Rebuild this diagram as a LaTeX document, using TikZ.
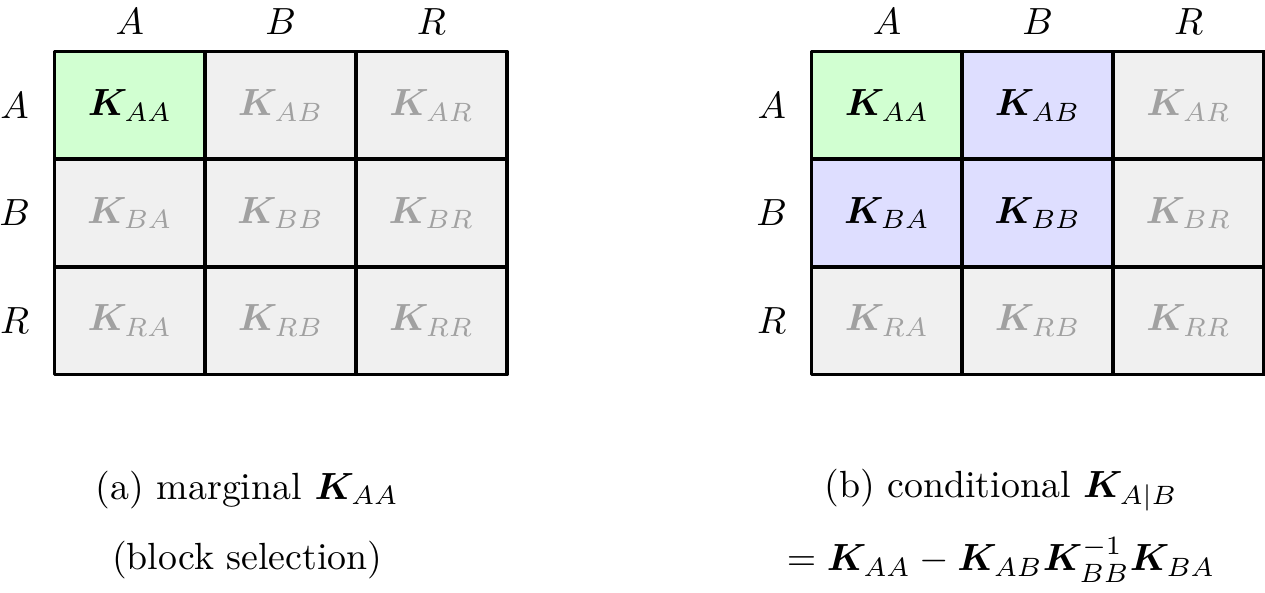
\documentclass[tikz,border=0pt]{standalone}
\usepackage{amsmath,bm}
\tikzset{
  cell/.style={draw,line width=1pt,minimum width=1.4cm,minimum height=1cm,inner sep=0pt},
  sel/.style={fill=green!18,text=black},
  cond/.style={fill=blue!13,text=black},
  rest/.style={fill=black!6,text=black!37},
  lab/.style={inner sep=1pt}
}
\begin{document}
\begin{tikzpicture}[line cap=round,line join=round]
  \useasboundingbox (-0.506,0.478) rectangle (11.24,-5.02);
  % row and column labels
  \foreach \g/\x in {a/0,b/7.03}
    \foreach \r/\i in {A/1,B/2,R/3}{
      \node[lab] (\g col\r) at (\x+1.4*\i-0.7,0.28) {$\r$};
      \node[lab] (\g row\r) at (\x-0.37,0.5-\i) {$\r$};
    }
  % (a) marginal
  \foreach \n/\i/\j/\s in {AA/1/1/sel,AB/1/2/rest,AR/1/3/rest,
                           BA/2/1/rest,BB/2/2/rest,BR/2/3/rest,
                           RA/3/1/rest,RB/3/2/rest,RR/3/3/rest}
    \node[cell,\s] (a\n) at (1.4*\j-0.7,0.5-\i) {$\bm{K}_{\n}$};
  % (b) conditional
  \foreach \n/\i/\j/\s in {AA/1/1/sel,AB/1/2/cond,AR/1/3/rest,
                           BA/2/1/cond,BB/2/2/cond,BR/2/3/rest,
                           RA/3/1/rest,RB/3/2/rest,RR/3/3/rest}
    \node[cell,\s] (b\n) at (7.03+1.4*\j-0.7,0.5-\i) {$\bm{K}_{\n}$};

  \node (capa) at (1.79,-4.07) {(a) marginal $\bm{K}_{AA}$};
  \node (capa2) at (1.79,-4.72) {(block selection)};
  \node (capb) at (8.79,-4.07) {(b) conditional $\bm{K}_{A|B}$};
  \node (capb2) at (8.79,-4.72) {$=\bm{K}_{AA}-\bm{K}_{AB}\bm{K}_{BB}^{-1}\bm{K}_{BA}$};
\end{tikzpicture}
\end{document}
